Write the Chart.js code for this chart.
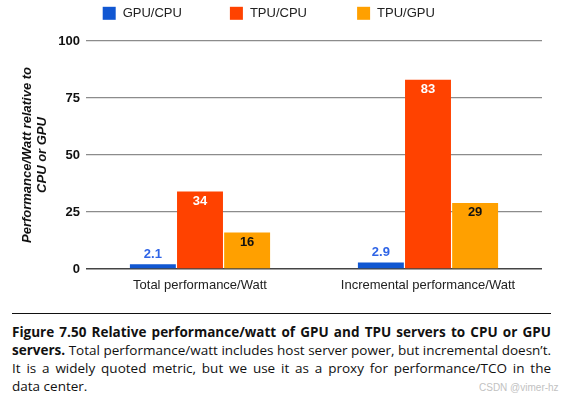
<!DOCTYPE html>
<html>
<head>
<meta charset="utf-8">
<script src="https://cdn.jsdelivr.net/npm/chart.js@4/dist/chart.umd.min.js"></script>
<style>
  html, body { margin: 0; padding: 0; background: #fff; }
  body { width: 563px; height: 398px; position: relative; overflow: hidden; }
  #wrap { position: absolute; left: 0; top: 0; width: 563px; height: 300px; }
  #rule { position: absolute; left: 12px; top: 313px; width: 539px; height: 1.4px; background: #111; }
  #caption { position: absolute; left: 12px; top: 322.6px; width: 539px; font-family: "Open Sans", "Noto Sans", sans-serif; font-size: 13.5px; line-height: 18.1px; color: #111; }
  #caption .ln { white-space: nowrap; }
  #caption .t { white-space: nowrap; }
  #caption b { font-weight: 700; }
  #wm { position: absolute; left: 479px; top: 380.5px; font-family: "Liberation Sans", Arial, sans-serif; font-size: 10px; line-height: 13px; color: #c2c2c2; white-space: nowrap; }
</style>
</head>
<body>
<div id="wrap"><canvas id="c" width="563" height="300"></canvas></div>
<div id="rule"></div>
<div id="caption">
  <div class="ln j"><span class="t"><b>Figure 7.50 Relative performance/watt of GPU and TPU servers to CPU or GPU</b></span></div>
  <div class="ln j"><span class="t"><b>servers.</b> Total performance/watt includes host server power, but incremental doesn’t.</span></div>
  <div class="ln j"><span class="t">It is a widely quoted metric, but we use it as a proxy for performance/TCO in the</span></div>
  <div class="ln"><span class="t">data center.</span></div>
</div>
<div id="wm">CSDN @vimer-hz</div>
<script>
// ---- data ----
const categories = ['Total performance/Watt', 'Incremental performance/Watt'];
const seriesNames = ['GPU/CPU', 'TPU/CPU', 'TPU/GPU'];
const gpuCpu = [2.1, 2.9];
const tpuCpu = [34, 83];
const tpuGpu = [16, 29];
const yTicks = [0, 25, 50, 75, 100];
const yTitle = ['Performance/Watt relative to', 'CPU or GPU'];

const colors = ['#1157d2', '#ff4200', '#ffa000'];
const labelColors = ['#2f64e6', '#ffffff', '#111111'];
const labelInside = [false, true, true];

const FONT = '"Liberation Sans", Arial, sans-serif';

const legendPlugin = {
  id: 'customLegend',
  afterDraw(chart) {
    const ctx = chart.ctx;
    const startX = 102.7, step = 127.2, cy = 13.3;
    ctx.save();
    ctx.font = '13px ' + FONT;
    ctx.textBaseline = 'middle';
    ctx.textAlign = 'left';
    chart.data.datasets.forEach((ds, i) => {
      const x = startX + i * step;
      ctx.fillStyle = ds.backgroundColor;
      ctx.fillRect(x, cy - 6.5, 13, 13);
      ctx.fillStyle = '#222';
      ctx.fillText(ds.label, x + 20, cy + 0.5);
    });
    ctx.restore();
  }
};

const valueLabelPlugin = {
  id: 'valueLabels',
  afterDatasetsDraw(chart) {
    const ctx = chart.ctx;
    ctx.save();
    ctx.font = 'bold 13px ' + FONT;
    ctx.textAlign = 'center';
    ctx.textBaseline = 'middle';
    chart.data.datasets.forEach((ds, i) => {
      const meta = chart.getDatasetMeta(i);
      meta.data.forEach((bar, j) => {
        const v = ds.data[j];
        const y = labelInside[i] ? bar.y + 9.5 : bar.y - 9.5;
        ctx.fillStyle = labelColors[i];
        ctx.fillText(String(v), bar.x, y);
      });
    });
    ctx.restore();
  }
};

new Chart(document.getElementById('c'), {
  type: 'bar',
  data: {
    labels: categories,
    datasets: [
      { label: seriesNames[0], data: gpuCpu, backgroundColor: colors[0] },
      { label: seriesNames[1], data: tpuCpu, backgroundColor: colors[1] },
      { label: seriesNames[2], data: tpuGpu, backgroundColor: colors[2] }
    ]
  },
  options: {
    responsive: false,
    animation: false,
    devicePixelRatio: 1,
    layout: { padding: { top: 41, right: 21, bottom: 0, left: 0 } },
    datasets: { bar: { barPercentage: 0.975, categoryPercentage: 0.62 } },
    plugins: {
      legend: { display: false },
      tooltip: { enabled: false }
    },
    scales: {
      x: {
        grid: { display: false, drawTicks: false },
        border: { display: false },
        ticks: { font: { family: FONT, size: 13 }, color: '#222', padding: 9, maxRotation: 0 },
        afterFit: s => { s.height = 31; }
      },
      y: {
        min: 0, max: 100,
        afterBuildTicks: s => { s.ticks = yTicks.map(v => ({ value: v })); },
        ticks: { font: { family: FONT, size: 13, weight: 'bold' }, color: '#111', padding: 6 },
        grid: {
          drawTicks: false,
          color: c => (c.tick && c.tick.value === 0) ? '#444' : '#8c8c8c',
          lineWidth: c => (c.tick && c.tick.value === 0) ? 1.5 : 1.2
        },
        border: { display: false },
        title: {
          display: true,
          text: yTitle,
          font: { family: FONT, size: 13, weight: 'bold', style: 'italic', lineHeight: 1.15 },
          color: '#111',
          padding: { top: 19.7, bottom: 0 }
        },
        afterFit: s => { s.width = 86; }
      }
    }
  },
  plugins: [legendPlugin, valueLabelPlugin]
});

// justify caption lines to the full width
(function () {
  const target = 539;
  document.querySelectorAll('#caption .ln.j .t').forEach(span => {
    const w = span.getBoundingClientRect().width;
    const spaces = (span.textContent.match(/ /g) || []).length;
    if (spaces > 0) span.style.wordSpacing = ((target - w) / spaces) + 'px';
  });
})();
</script>
</body>
</html>
